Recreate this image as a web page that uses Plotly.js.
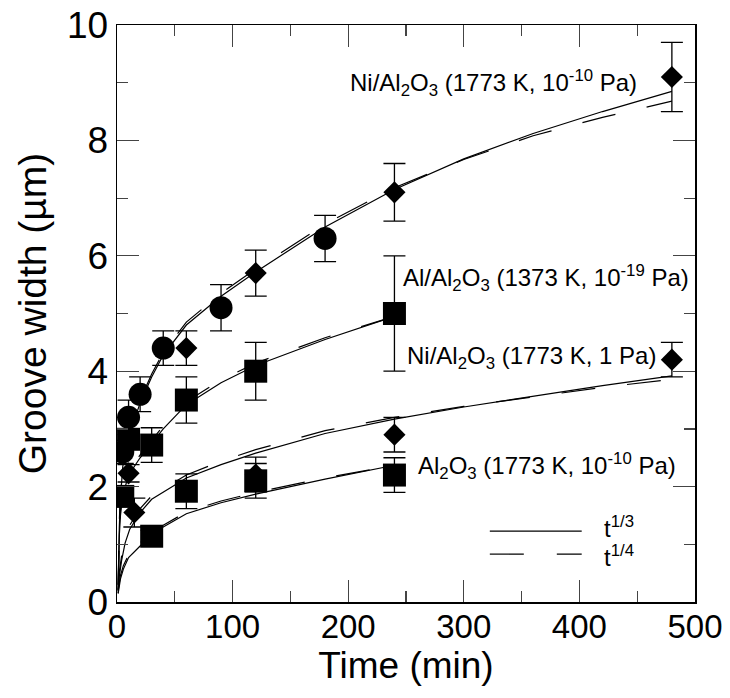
<!DOCTYPE html>
<html><head><meta charset="utf-8">
<script src="https://cdn.plot.ly/plotly-3.0.1.min.js"></script>
<style>html,body{margin:0;padding:0;background:#fff}</style>
</head><body><div id="chart" style="width:730px;height:698px"></div>
<script>
// ---- measured points ----
const circT = [5, 10, 20, 40, 90, 180];
const circW = [2.6, 3.2, 3.6, 4.4, 5.1, 6.3];
const circE = [0.2, 0.3, 0.3, 0.3, 0.4, 0.4];

const diamHiT = [60, 120, 240, 480];
const diamHiW = [4.4, 5.7, 7.1, 9.1];
const diamHiE = [0.3, 0.4, 0.5, 0.6];

const sqAlT = [10, 30, 60, 120, 240];
const sqAlW = [2.82, 2.72, 3.5, 4.0, 5.0];
const sqAlE = [0.15, 0.3, 0.4, 0.5, 1.0];

const diamLoT = [10, 15, 120, 240, 480];
const diamLoW = [2.23, 1.55, 2.21, 2.9, 4.2];
const diamLoE = [0.15, 0.25, 0.3, 0.3, 0.3];

const sqOxT = [5, 30, 60, 120, 240];
const sqOxW = [1.83, 1.14, 1.92, 2.1, 2.2];
const sqOxE = [0.15, 0.1, 0.3, 0.3, 0.3];

// ---- fitted curves ----
const fit1T  = [1, 1.5, 2, 3, 5, 10, 20, 30, 40, 60, 90, 120, 180, 240, 300, 360, 420, 480];
const fit1S  = [0.2, 0.9, 1.3, 1.8, 2.35, 2.85, 3.45, 3.9, 4.28, 4.8, 5.3, 5.72, 6.5, 7.15, 7.68, 8.12, 8.5, 8.85];
const fit1D  = [0.3, 1.0, 1.4, 1.9, 2.45, 2.92, 3.5, 3.95, 4.33, 4.85, 5.35, 5.77, 6.55, 7.18, 7.67, 8.08, 8.4, 8.68];

const fit2T  = [1, 1.5, 2, 3, 5, 10, 20, 30, 40, 60, 90, 120, 180, 240];
const fit2S  = [0.2, 0.8, 1.15, 1.5, 1.85, 2.2, 2.5, 2.75, 3.0, 3.42, 3.8, 4.1, 4.55, 4.95];
const fit2D  = [0.3, 0.9, 1.25, 1.6, 1.92, 2.25, 2.55, 2.8, 3.05, 3.47, 3.85, 4.14, 4.58, 4.95];

const fit3T  = [1, 2, 4, 7, 11, 20, 30, 60, 90, 120, 180, 240, 300, 360, 420, 480];
const fit3S  = [0.15, 0.45, 0.72, 1.02, 1.26, 1.55, 1.78, 2.15, 2.38, 2.58, 2.92, 3.17, 3.38, 3.57, 3.75, 3.92];
const fit3D  = [0.22, 0.52, 0.8, 1.1, 1.33, 1.62, 1.84, 2.2, 2.44, 2.64, 2.97, 3.2, 3.39, 3.56, 3.72, 3.86];

const fit4T  = [1, 2, 3, 5.5, 10, 20, 30, 40, 60, 90, 120, 180, 240];
const fit4S  = [0.15, 0.3, 0.4, 0.57, 0.77, 0.97, 1.15, 1.3, 1.53, 1.72, 1.87, 2.13, 2.37];
const fit4D  = [0.2, 0.36, 0.46, 0.63, 0.82, 1.02, 1.19, 1.33, 1.56, 1.75, 1.9, 2.15, 2.37];

const xTicks = [0, 100, 200, 300, 400, 500];
const yTicks = [0, 2, 4, 6, 8, 10];

const FONT = 'Liberation Sans, Arial, Helvetica, sans-serif';
const DASH = '34px,32px';

function curve(t, w, dashed) {
  return {x: t, y: w, mode: 'lines', type: 'scatter', showlegend: false, hoverinfo: 'skip',
          line: {color: '#000', width: 1.2, dash: dashed ? DASH : 'solid'}};
}
function pts(t, w, e, sym, size) {
  return {x: t, y: w, mode: 'markers', type: 'scatter', showlegend: false,
          marker: {symbol: sym, size: size, color: '#000', line: {width: 0}},
          error_y: {type: 'data', array: e, visible: true, color: '#000', thickness: 1.3, width: 11}};
}

const data = [
  curve(fit1T, fit1S, false), curve(fit1T, fit1D, true),
  curve(fit2T, fit2S, false), curve(fit2T, fit2D, true),
  curve(fit3T, fit3S, false), curve(fit3T, fit3D, true),
  curve(fit4T, fit4S, false), curve(fit4T, fit4D, true),
  pts(circT, circW, circE, 'circle', 23),
  pts(diamHiT, diamHiW, diamHiE, 'diamond', 17),
  pts(sqAlT, sqAlW, sqAlE, 'square', 23),
  pts(diamLoT, diamLoW, diamLoE, 'diamond', 17),
  pts(sqOxT, sqOxW, sqOxE, 'square', 23)
];

const annFont = {family: FONT, size: 24, color: '#000'};
function ann(text, x, y, xanchor) {
  return {text: text, x: x, y: y, xref: 'x', yref: 'y', xanchor: xanchor, yanchor: 'middle',
          showarrow: false, font: annFont};
}

const layout = {
  width: 730, height: 698,
  margin: {l: 117, r: 35, t: 25, b: 96},
  paper_bgcolor: '#fff', plot_bgcolor: '#fff',
  font: {family: FONT, color: '#000'},
  xaxis: {
    range: [0, 500], tickvals: xTicks, ticks: 'inside', ticklen: 22, tickwidth: 1.2,
    minor: {dtick: 50, ticklen: 11, tickwidth: 1.2, ticks: 'inside', showgrid: false},
    showline: true, linecolor: '#000', linewidth: 1.5, mirror: 'allticks', showgrid: false, zeroline: false,
    tickfont: {family: FONT, size: 33}, ticklabelstandoff: -5,
    title: {text: 'Time (min)', font: {family: FONT, size: 37}, standoff: 2}
  },
  yaxis: {
    range: [0, 10], tickvals: yTicks, ticks: 'inside', ticklen: 22, tickwidth: 1.2,
    minor: {dtick: 1, ticklen: 11, tickwidth: 1.2, ticks: 'inside', showgrid: false},
    showline: true, linecolor: '#000', linewidth: 1.5, mirror: 'allticks', showgrid: false, zeroline: false,
    tickfont: {family: FONT, size: 37},
    title: {text: 'Groove width (µm)', font: {family: FONT, size: 39}, standoff: 8}
  },
  annotations: [
    ann('Ni/Al<sub>2</sub>O<sub>3</sub> (1773 K, 10<sup>-10</sup> Pa)', 451.5, 9.0, 'right'),
    ann('Al/Al<sub>2</sub>O<sub>3</sub> (1373 K, 10<sup>-19</sup> Pa)', 245.8, 5.62, 'left'),
    ann('Ni/Al<sub>2</sub>O<sub>3</sub> (1773 K, 1 Pa)', 249.5, 4.24, 'left'),
    ann('Al<sub>2</sub>O<sub>3</sub> (1773 K, 10<sup>-10</sup> Pa)', 259, 2.36, 'left'),
    ann('t<sup>1/3</sup>', 419.7, 1.3, 'left'),
    ann('t<sup>1/4</sup>', 419.7, 0.8, 'left')
  ],
  shapes: [
    {type: 'line', xref: 'x', yref: 'y', x0: 322.5, x1: 402, y0: 1.23, y1: 1.23, line: {color: '#000', width: 1.2}},
    {type: 'line', xref: 'x', yref: 'y', x0: 322.5, x1: 402, y0: 0.83, y1: 0.83, line: {color: '#000', width: 1.2, dash: '34px,33px'}}
  ]
};

Plotly.newPlot('chart', data, layout, {displayModeBar: false, staticPlot: true});
</script>
</body></html>
